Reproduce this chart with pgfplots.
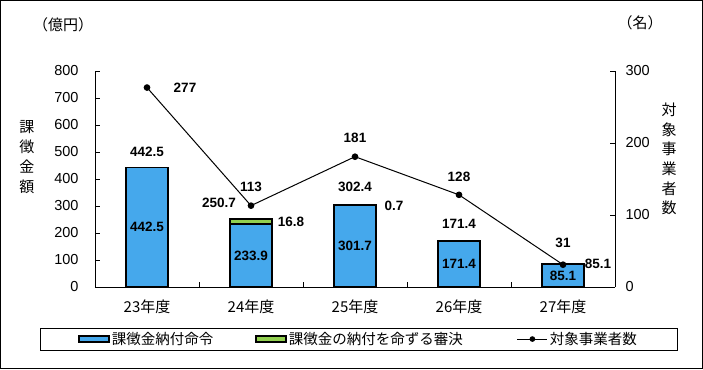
\documentclass[border=0pt]{standalone}
\usepackage{pgfplots}
\pgfplotsset{compat=1.18}
\usepackage{fontspec}
\setmainfont{Liberation Sans}
\newfontfamily\jp{Noto Sans CJK JP}
\definecolor{barblue}{RGB}{69,168,236}
\definecolor{bargreen}{RGB}{146,208,80}
\tikzset{lbl/.style={font=\bfseries\fontsize{13.5}{15}\selectfont}}
\begin{document}
\begin{tikzpicture}[x=1pt,y=1pt]
\draw[line width=1.2pt] (0.6,0.6) rectangle (702.4,368.4);
\begin{axis}[
  at={(95pt,82pt)}, anchor=south west,
  scale only axis, width=520pt, height=216pt,
  xmin=-0.5, xmax=4.5, ymin=0, ymax=800,
  axis x line*=bottom, axis y line*=left,
  axis line style={-, line width=0.8pt},
  ybar stacked, bar width=42pt,
  xtick=\empty,
  extra x ticks={0,1,2,3,4},
  extra x tick labels={23年度,24年度,25年度,26年度,27年度},
  extra x tick style={major tick length=0pt, xticklabel style={font=\jp\fontsize{15}{17}\selectfont, yshift=-9pt}},
  tick align=inside,
  ytick={0,100,...,800},
  major tick length=4.5pt,
  tick style={line width=0.8pt, black},
  yticklabel style={font=\fontsize{14.5}{16}\selectfont, xshift=-13pt},
  /pgf/number format/assume math mode=true,
  clip=false,
  legend columns=3,
  legend style={at={(0.507,-0.241)}, anchor=center, draw=black, line width=0.8pt,
    font=\jp\fontsize{14.5}{16}\selectfont, inner xsep=38pt, inner ysep=2pt,
    /tikz/column 2/.style={column sep=40pt},
    /tikz/column 4/.style={column sep=52pt}},
]
\addplot[fill=barblue, draw=black, line width=1.8pt,
  legend image code/.code={\draw[fill=barblue, draw=black, line width=1.5pt] (0pt,-3pt) rectangle (30pt,3pt);}]
  coordinates {(0,442.5) (1,233.9) (2,301.7) (3,171.4) (4,85.1)};
\addlegendentry{課徴金納付命令}
\addplot[fill=bargreen, draw=black, line width=1.8pt,
  legend image code/.code={\draw[fill=bargreen, draw=black, line width=1.5pt] (0pt,-3pt) rectangle (30pt,3pt);}]
  coordinates {(0,0) (1,16.8) (2,0.7) (3,0) (4,0)};
\addlegendentry{課徴金の納付を命ずる審決}
\addlegendimage{black, line width=1pt, legend image code/.code={\draw[black, line width=1pt] (0pt,0pt) -- (30pt,0pt); \fill[black] (15pt,0pt) circle (2.3pt);}}
\addlegendentry{対象事業者数}
\node[lbl, yshift=16pt] at (axis cs:0,442.5) {442.5};
\node[lbl, xshift=-32pt, yshift=16pt] at (axis cs:1,250.7) {250.7};
\node[lbl, yshift=18pt] at (axis cs:2,302.4) {302.4};
\node[lbl, yshift=17pt] at (axis cs:3,171.4) {171.4};
\node[lbl, xshift=35pt] at (axis cs:4,85.1) {85.1};
\node[lbl, xshift=40pt, yshift=-3pt] at (axis cs:1,250.7) {16.8};
\node[lbl, xshift=39pt] at (axis cs:2,302.4) {0.7};
\end{axis}
\begin{axis}[
  at={(95pt,82pt)}, anchor=south west,
  scale only axis, width=520pt, height=216pt,
  xmin=-0.5, xmax=4.5, ymin=0, ymax=300,
  axis y line*=right, axis x line*=bottom,
  axis line style={-, line width=0.8pt},
  xtick={0.5,1.5,2.5,3.5},
  xticklabels={},
  ytick={0,100,200,300},
  tick align=inside,
  major tick length=5pt,
  tick style={line width=0.8pt, black},
  yticklabel style={font=\fontsize{14.5}{16}\selectfont, xshift=7pt},
  /pgf/number format/assume math mode=true,
  clip=false,
]
\addplot[black, line width=1pt, mark=*, mark size=2.8pt]
  coordinates {(0,277) (1,113) (2,181) (3,128) (4,31)};
% labels inside the bars (blue segment midpoints, converted to this axis: 800 -> 300)
\node[lbl] at (axis cs:0,82.97) {442.5};
\node[lbl] at (axis cs:1,43.86) {233.9};
\node[lbl] at (axis cs:2,56.57) {301.7};
\node[lbl] at (axis cs:3,32.14) {171.4};
\node[lbl] at (axis cs:4,15.96) {85.1};
\node[lbl, xshift=38pt] at (axis cs:0,277) {277};
\node[lbl, yshift=19pt] at (axis cs:1,113) {113};
\node[lbl, yshift=19pt] at (axis cs:2,181) {181};
\node[lbl, yshift=18pt] at (axis cs:3,128) {128};
\node[lbl, yshift=22pt] at (axis cs:4,31) {31};
\end{axis}
\node[align=center, font=\jp\fontsize{15}{20}\selectfont] at (27,212) {課\\徴\\金\\額};
\node[align=center, font=\jp\fontsize{15}{19.6}\selectfont] at (669,210) {対\\象\\事\\業\\者\\数};
\node[font=\jp\fontsize{15}{17}\selectfont] at (63,344) {（億円）};
\node[font=\jp\fontsize{15}{17}\selectfont] at (640,346) {（名）};
\end{tikzpicture}
\end{document}
